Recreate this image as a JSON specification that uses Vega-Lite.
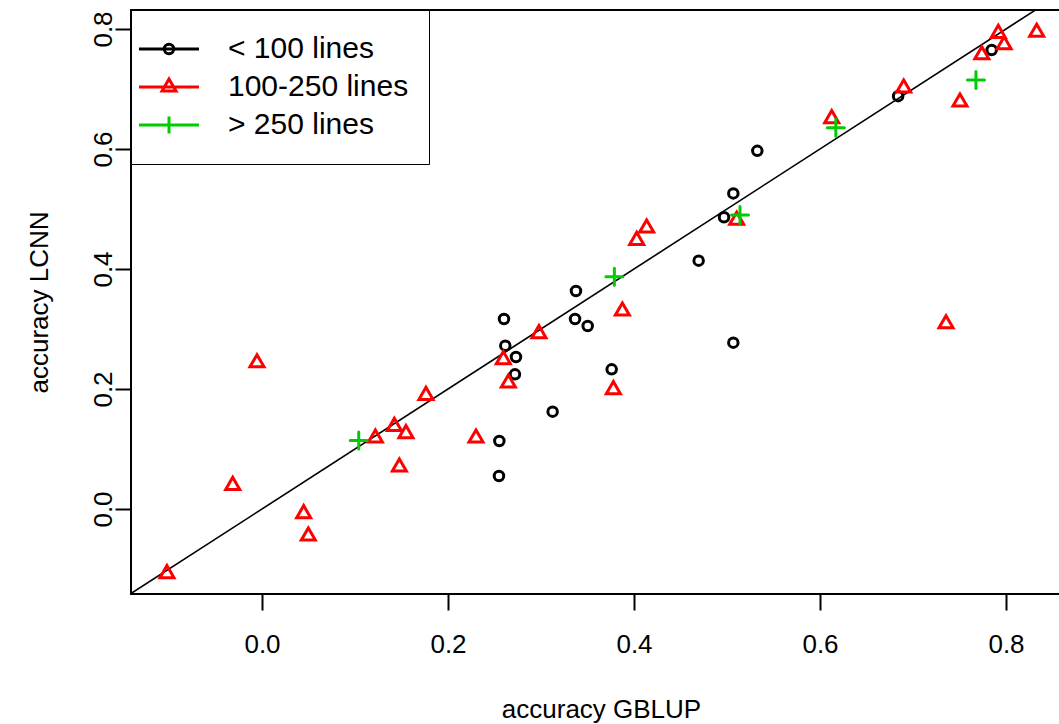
{
  "$schema": "https://vega.github.io/schema/vega-lite/v6.json",
  "width": 929,
  "height": 584,
  "autosize": {"type": "none"},
  "padding": {"left": 131, "top": 10, "right": 0, "bottom": 130},
  "background": "white",
  "config": {"view": {"stroke": "black", "strokeWidth": 2}, "font": "Liberation Sans"},
  "resolve": {"scale": {"color": "independent", "shape": "independent"}},
  "encoding": {
    "x": {
      "field": "gblup", "type": "quantitative",
      "scale": {"domain": [-0.14086, 0.85806], "nice": false, "zero": false},
      "axis": {"title": "accuracy GBLUP", "values": [0, 0.2, 0.4, 0.6, 0.8], "format": ".1f", "domain": false, "grid": false,
        "tickSize": 16, "tickWidth": 2, "tickColor": "black",
        "labelFont": "Liberation Sans", "labelFontSize": 26, "labelColor": "black", "labelBaseline": "alphabetic", "labelPadding": 42, "labelFlush": false, "labelOverlap": false,
        "titleFont": "Liberation Sans", "titleFontSize": 26, "titleFontWeight": "normal", "titleColor": "black", "titleBaseline": "alphabetic", "titleY": 123, "titleX": 470}
    },
    "y": {
      "field": "lcnn", "type": "quantitative",
      "scale": {"domain": [-0.14167, 0.83167], "nice": false, "zero": false},
      "axis": {"title": "accuracy LCNN", "values": [0, 0.2, 0.4, 0.6, 0.8], "format": ".1f", "domain": false, "grid": false,
        "tickSize": 16, "tickWidth": 2, "tickColor": "black",
        "labelFont": "Liberation Sans", "labelFontSize": 26, "labelColor": "black", "labelAngle": 270, "labelAlign": "center", "labelBaseline": "alphabetic", "labelPadding": 4, "labelFlush": false, "labelOverlap": false,
        "titleFont": "Liberation Sans", "titleFontSize": 26, "titleFontWeight": "normal", "titleColor": "black", "titleAngle": 270, "titleAlign": "center", "titleBaseline": "alphabetic", "titleX": -84, "titleY": 292}
    }
  },
  "layer": [
    {
      "data": {"values": [{"gblup": -0.3, "lcnn": -0.3}, {"gblup": 1.0, "lcnn": 1.0}]},
      "mark": {"type": "line", "color": "black", "strokeWidth": 1.6, "clip": true}
    },
    {
      "data": {"values": [
        {"gblup": 0.7846, "lcnn": 0.765, "group": "< 100 lines"},
        {"gblup": 0.684, "lcnn": 0.688, "group": "< 100 lines"},
        {"gblup": 0.5326, "lcnn": 0.597, "group": "< 100 lines"},
        {"gblup": 0.5068, "lcnn": 0.526, "group": "< 100 lines"},
        {"gblup": 0.4968, "lcnn": 0.4862, "group": "< 100 lines"},
        {"gblup": 0.4695, "lcnn": 0.4139, "group": "< 100 lines"},
        {"gblup": 0.3376, "lcnn": 0.3633, "group": "< 100 lines"},
        {"gblup": 0.2602, "lcnn": 0.3167, "group": "< 100 lines"},
        {"gblup": 0.3366, "lcnn": 0.3167, "group": "< 100 lines"},
        {"gblup": 0.3502, "lcnn": 0.305, "group": "< 100 lines"},
        {"gblup": 0.5068, "lcnn": 0.2772, "group": "< 100 lines"},
        {"gblup": 0.2616, "lcnn": 0.2722, "group": "< 100 lines"},
        {"gblup": 0.2731, "lcnn": 0.2533, "group": "< 100 lines"},
        {"gblup": 0.376, "lcnn": 0.2328, "group": "< 100 lines"},
        {"gblup": 0.272, "lcnn": 0.2245, "group": "< 100 lines"},
        {"gblup": 0.3125, "lcnn": 0.1622, "group": "< 100 lines"},
        {"gblup": 0.2552, "lcnn": 0.1133, "group": "< 100 lines"},
        {"gblup": 0.2548, "lcnn": 0.055, "group": "< 100 lines"},
        {"gblup": 0.7917, "lcnn": 0.796, "group": "100-250 lines"},
        {"gblup": 0.833, "lcnn": 0.798, "group": "100-250 lines"},
        {"gblup": 0.798, "lcnn": 0.777, "group": "100-250 lines"},
        {"gblup": 0.774, "lcnn": 0.7605, "group": "100-250 lines"},
        {"gblup": 0.7505, "lcnn": 0.6817, "group": "100-250 lines"},
        {"gblup": 0.69, "lcnn": 0.705, "group": "100-250 lines"},
        {"gblup": 0.6126, "lcnn": 0.654, "group": "100-250 lines"},
        {"gblup": 0.7355, "lcnn": 0.312, "group": "100-250 lines"},
        {"gblup": 0.5104, "lcnn": 0.4845, "group": "100-250 lines"},
        {"gblup": 0.4136, "lcnn": 0.4717, "group": "100-250 lines"},
        {"gblup": 0.4029, "lcnn": 0.451, "group": "100-250 lines"},
        {"gblup": 0.3875, "lcnn": 0.3333, "group": "100-250 lines"},
        {"gblup": 0.2978, "lcnn": 0.2956, "group": "100-250 lines"},
        {"gblup": 0.2595, "lcnn": 0.2522, "group": "100-250 lines"},
        {"gblup": 0.2649, "lcnn": 0.2133, "group": "100-250 lines"},
        {"gblup": 0.3778, "lcnn": 0.2022, "group": "100-250 lines"},
        {"gblup": 0.2301, "lcnn": 0.1217, "group": "100-250 lines"},
        {"gblup": -0.0054, "lcnn": 0.247, "group": "100-250 lines"},
        {"gblup": 0.1763, "lcnn": 0.1928, "group": "100-250 lines"},
        {"gblup": 0.1423, "lcnn": 0.141, "group": "100-250 lines"},
        {"gblup": 0.1548, "lcnn": 0.129, "group": "100-250 lines"},
        {"gblup": 0.1219, "lcnn": 0.1217, "group": "100-250 lines"},
        {"gblup": 0.1477, "lcnn": 0.0733, "group": "100-250 lines"},
        {"gblup": -0.0315, "lcnn": 0.0428, "group": "100-250 lines"},
        {"gblup": 0.0448, "lcnn": -0.0044, "group": "100-250 lines"},
        {"gblup": 0.0498, "lcnn": -0.0417, "group": "100-250 lines"},
        {"gblup": -0.1022, "lcnn": -0.1044, "group": "100-250 lines"},
        {"gblup": 0.7677, "lcnn": 0.715, "group": "> 250 lines"},
        {"gblup": 0.617, "lcnn": 0.6355, "group": "> 250 lines"},
        {"gblup": 0.514, "lcnn": 0.49, "group": "> 250 lines"},
        {"gblup": 0.3789, "lcnn": 0.3872, "group": "> 250 lines"},
        {"gblup": 0.104, "lcnn": 0.114, "group": "> 250 lines"}
      ]},
      "mark": {"type": "point", "filled": false, "size": 196, "strokeWidth": 3, "strokeCap": "round", "opacity": 1},
      "encoding": {
        "color": {
          "field": "group", "type": "nominal",
          "scale": {"domain": ["< 100 lines", "100-250 lines", "> 250 lines"], "range": ["#000000", "#FF0000", "#00CD00"]},
          "legend": null
        },
        "shape": {
          "field": "group", "type": "nominal",
          "scale": {"domain": ["< 100 lines", "100-250 lines", "> 250 lines"], "range": [
            "M0.679,0A0.679,0.679,0,1,1,-0.679,0A0.679,0.679,0,1,1,0.679,0Z",
            "M-1,0.866L1,0.866L0,-0.866Z",
            "M-1.214,0L1.214,0M0,-1.214L0,1.214"
          ]},
          "legend": null
        }
      }
    },
    {
      "data": {"values": []},
      "mark": {"type": "point", "filled": false, "size": 196, "strokeWidth": 3, "opacity": 1},
      "encoding": {
        "color": {
          "field": "group", "type": "nominal",
          "scale": {"domain": ["< 100 lines", "100-250 lines", "> 250 lines"], "range": ["#000000", "#FF0000", "#00CD00"]},
          "legend": {
            "orient": "top-left", "offset": 0, "title": null, "padding": 20,
            "strokeColor": "black", "fillColor": "white",
            "symbolSize": 1225, "symbolStrokeWidth": 3, "symbolFillColor": "transparent", "symbolOffset": -1,
            "labelFont": "Liberation Sans", "labelFontSize": 30, "labelColor": "black", "labelOffset": 40, "labelLimit": 400,
            "rowPadding": 0,
            "encode": {"legend": {"strokeWidth": {"value": 2}}}
          }
        },
        "shape": {
          "field": "group", "type": "nominal",
          "scale": {"domain": ["< 100 lines", "100-250 lines", "> 250 lines"], "range": [
            "M-1.714,0L1.714,0M0.2714,0A0.2714,0.2714,0,1,1,-0.2714,0A0.2714,0.2714,0,1,1,0.2714,0M0,-0.737M0,0.737",
            "M-1.714,0L1.714,0M-0.4,0.2309L0.4,0.2309L0,-0.4617ZM0,-0.737M0,0.737",
            "M-1.714,0L1.714,0M0,-0.4857L0,0.4857M0,-0.737M0,0.737"
          ]},
          "legend": {
            "orient": "top-left", "offset": 0, "title": null, "padding": 20,
            "strokeColor": "black", "fillColor": "white",
            "symbolSize": 1225, "symbolStrokeWidth": 3, "symbolFillColor": "transparent", "symbolOffset": -1,
            "labelFont": "Liberation Sans", "labelFontSize": 30, "labelColor": "black", "labelOffset": 40, "labelLimit": 400,
            "rowPadding": 0,
            "encode": {"legend": {"strokeWidth": {"value": 2}}}
          }
        }
      }
    }
  ]
}
